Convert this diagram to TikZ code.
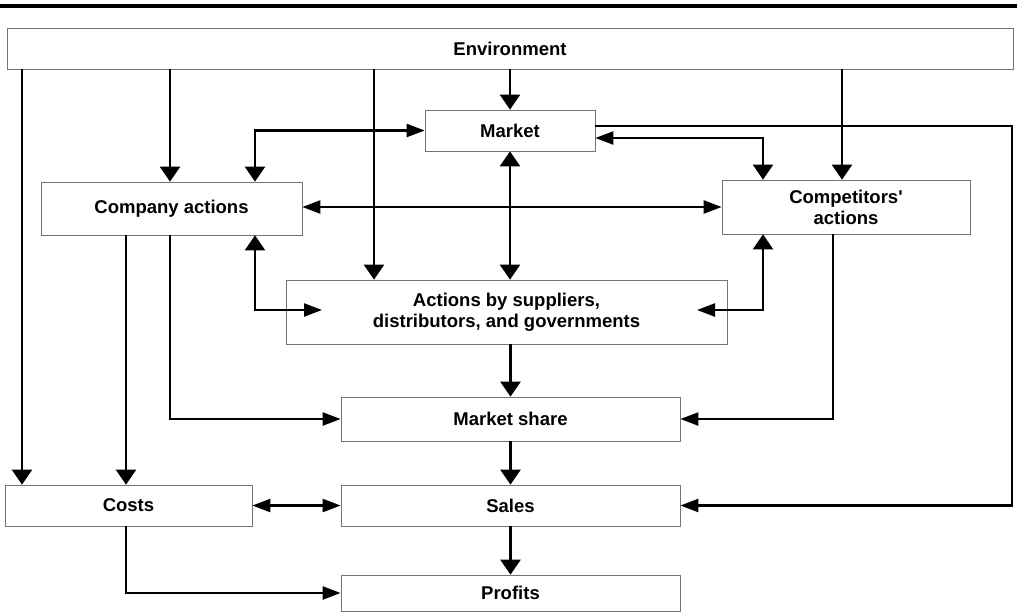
\documentclass[tikz,border=0pt]{standalone}
\usepackage{fontspec}
\setmainfont{Liberation Sans}
\usetikzlibrary{arrows.meta}
\tikzset{
  blk/.style={draw=black!55, line width=0.7pt, minimum height=41pt, inner sep=2pt,
    align=center, font=\bfseries\fontsize{18.5}{21}\selectfont},
  link/.style={line width=2.3pt},
  vtip/.tip={Triangle[length=15pt,width=20pt]},
  htip/.tip={Triangle[length=18pt,width=13pt]},
}
\begin{document}
\begin{tikzpicture}[x=1pt,y=-1pt]
  \useasboundingbox (0,0) rectangle (1017,611);
  \clip (0,0) rectangle (1017,611);
  % rule above the figure
  \draw[line width=4pt] (0,5.5) -- (1017,5.5);
  % boxes
  \node[blk, minimum width=1006pt] (env) at (510,48.5) {Environment};
  \node[blk, minimum width=170pt] (market) at (510,130.5) {Market};
  \node[blk, minimum width=261pt, minimum height=53pt] (company) at (171.5,208.5) {Company actions};
  \node[blk, minimum width=248pt, minimum height=54pt] (comp) at (846,207) {Competitors\textquotesingle\\actions};
  \node[blk, minimum width=441pt, minimum height=64pt] (supp) at (506.5,312) {Actions by suppliers,\\distributors, and governments};
  \node[blk, minimum width=339pt, minimum height=44pt] (share) at (510.5,419) {Market share};
  \node[blk, minimum width=247pt] (costs) at (128.5,505.5) {Costs};
  \node[blk, minimum width=339pt] (sales) at (510.5,505.5) {Sales};
  \node[blk, minimum width=339pt, minimum height=36pt] (profits) at (510.5,593) {Profits};
  % guide lines for the connectors
  \coordinate (xa) at (22,0);
  \coordinate (xb) at (170,0);
  \coordinate (xc) at (374,0);
  \coordinate (xe) at (842,0);
  \coordinate (xf) at (255,0);
  \coordinate (xg) at (763,0);
  \coordinate (xh) at (1012,0);
  \coordinate (xi) at (126,0);
  \coordinate (xj) at (833,0);
  \coordinate (suppL) at (322,310);
  \coordinate (suppR) at (697,310);
  % from the environment
  \draw[link,-vtip] (env.south -| xa) -- (costs.north -| xa);
  \draw[link,-vtip] (env.south -| xb) -- (company.north -| xb);
  \draw[link,-vtip] (env.south -| xc) -- (supp.north -| xc);
  \draw[link,-vtip] (env.south -| market.north) -- (market.north);
  \draw[link,-vtip] (env.south -| xe) -- (comp.north -| xe);
  % market
  \draw[link,htip-vtip] (market.west) -| (company.north -| xf);
  \draw[link,htip-vtip] ([yshift=-7.5pt]market.east) -| (comp.north -| xg);
  \draw[link,-htip] ([yshift=4.5pt]market.east) -| (sales.east -| xh) -- (sales.east);
  \draw[link,vtip-vtip] (market.south) -- (market.south |- supp.north);
  % actions
  \draw[link,htip-htip] (company.east |- comp.west) -- (comp.west);
  \draw[link,vtip-htip] (company.south -| xf) |- (suppL);
  \draw[link,vtip-htip] (comp.south -| xg) |- (suppR);
  \draw[link,-vtip] (company.south -| xi) -- (costs.north -| xi);
  \draw[link,-htip] (company.south -| xb) |- (share.west);
  \draw[link,-htip] (comp.south -| xj) |- (share.east);
  \draw[link,-vtip] (share.north |- supp.south) -- (share.north);
  % results
  \draw[link,-vtip] (share.south) -- (sales.north);
  \draw[link,htip-htip] (costs.east) -- (sales.west);
  \draw[link,-vtip] (sales.south) -- (profits.north);
  \draw[link,-htip] (costs.south -| xi) |- (profits.west);
\end{tikzpicture}
\end{document}
